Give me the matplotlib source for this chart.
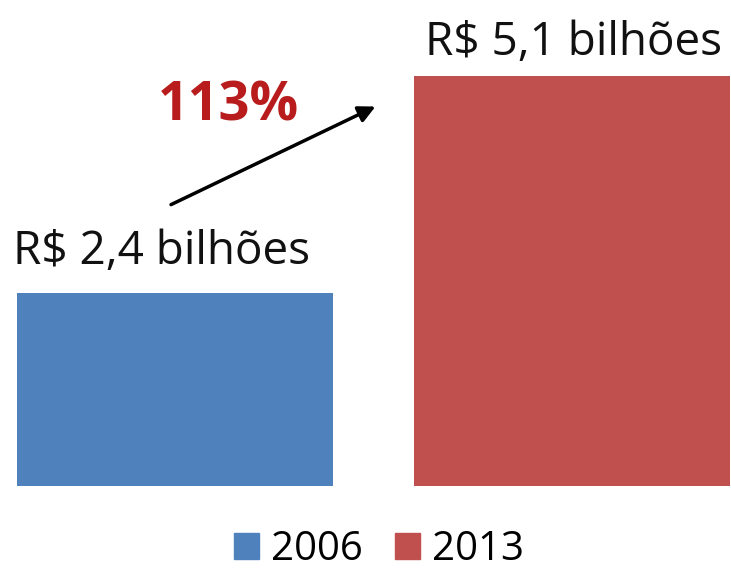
import matplotlib.pyplot as plt
from matplotlib.patches import Patch

# values in R$ billions
years = ["2006", "2013"]
values = [2.4, 5.1]
growth_label = "113%"
colors = ["#4F81BD", "#C0504D"]

plt.rcParams['font.family'] = ['Open Sans', 'DejaVu Sans']

fig = plt.figure(figsize=(7.31, 5.69), dpi=100)
ax = fig.add_axes([0, 0, 1, 1])

x = range(len(years))
bars = ax.bar(x, values, width=0.796, color=colors)

# value labels above each bar (x shift in data units, pixel offset)
label_offsets = [(-0.033, 21), (0.003, 15)]
for i, (bar, v) in enumerate(zip(bars, values)):
    txt = "R$ " + f"{v:.1f}".replace(".", ",") + " bilhões"
    dx, dy = label_offsets[i]
    ax.annotate(txt, (bar.get_x() + bar.get_width() / 2 + dx, v),
                xytext=(0, dy), textcoords="offset points",
                ha="center", va="baseline", fontsize=33, color="#111111")

# growth arrow between the two bars
ax.annotate("", xy=(0.505, 4.72), xytext=(-0.01, 3.5),
            arrowprops=dict(arrowstyle="-|>", color="black", lw=2.5,
                            mutation_scale=25, shrinkA=0, shrinkB=0))
ax.text(0.135, 4.55, growth_label, ha="center", va="baseline",
        fontsize=39, fontweight="bold", color="#B81C1C")

ax.set_xlim(-0.4408, 1.4005)
ax.set_ylim(-1.032, 6.045)
ax.axis("off")

handles = [Patch(color=c) for c in colors]
ax.legend(handles, years, loc="center", bbox_to_anchor=(0.518, 0.034),
          ncol=2, frameon=False, fontsize=29, handlelength=0.62,
          handleheight=0.62, handletextpad=0.3, columnspacing=0.8,
          borderpad=0)

fig.savefig("out.png", dpi=100)
